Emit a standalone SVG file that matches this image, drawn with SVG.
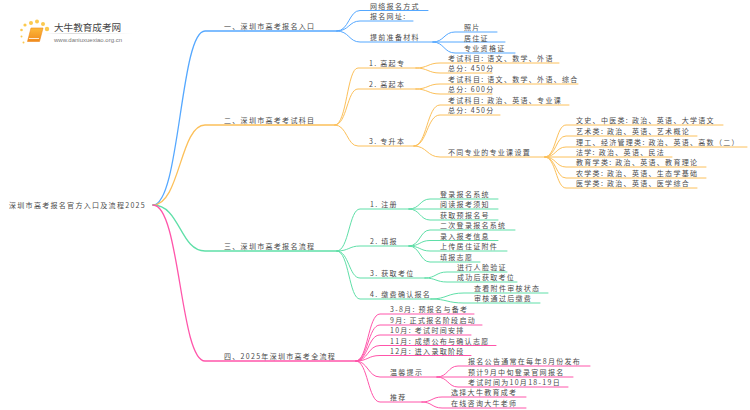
<svg xmlns="http://www.w3.org/2000/svg" width="750" height="410" viewBox="0 0 750 410">
<style>
text{font-family:"Noto Sans CJK SC","Noto Sans",sans-serif;font-size:7px;letter-spacing:1.300px;fill:#4a4a4a}
.c{fill:none;stroke-width:1;stroke-linecap:round}
.m{stroke-width:1.300}
.b{stroke:#55a8ff}.o{stroke:#fcc05a}.g{stroke:#5fdfa8}.p{stroke:#ff55aa}
</style>
<defs><linearGradient id="fade"><stop offset="0" stop-color="#ccc" stop-opacity="0"/><stop offset=".3" stop-color="#ccc"/><stop offset="1" stop-color="#ccc" stop-opacity="0"/></linearGradient>
<linearGradient id="bk" x1="0" y1="0" x2="0" y2="1"><stop offset="0" stop-color="#fdb93a"/><stop offset="1" stop-color="#f08a1c"/></linearGradient></defs>
<rect width="750" height="410" fill="#fff"/>
<g id="logo">
<g fill="#fbc94f"><circle cx="25" cy="25" r="1.600"/><circle cx="31" cy="23" r="2"/><circle cx="37" cy="21.500" r="2"/><circle cx="43" cy="24" r="2"/><circle cx="47" cy="29" r="2.200"/><circle cx="21.500" cy="30" r="1.300"/><circle cx="21.500" cy="36.500" r="1"/><circle cx="23.500" cy="42.500" r="1"/></g>
<path d="M31 28H43L39.500 41.500H27.500Z" fill="url(#bk)" stroke="#ee8a1d" stroke-width=".6"/>
<path d="M29 38.500H39" stroke="#fff" stroke-width=".8"/>
<rect x="45" y="33" width="88" height=".7" fill="url(#fade)"/>
<text x="54" y="31" style="font-size:9.600px;letter-spacing:0;fill:#444">大牛教育成考网</text>
<text x="54" y="41.500" style="font-size:6px;letter-spacing:0;fill:#777;font-family:'Liberation Sans',sans-serif">www.daniuxuexiao.org.cn</text>
</g>
<g id="connectors">
<path class="c m b" d="M153 205C180 205 180 31 205 31H337"/>
<path class="c b" d="M337 31C349 31 349 10.500 360 10.500H428"/>
<path class="c b" d="M337 31C349 31 349 21 360 21H413"/>
<path class="c b" d="M337 31C349 31 349 42 360 42H433"/>
<path class="c b" d="M433 42C444 42 444 32 455 32H497"/>
<path class="c b" d="M433 42H505"/>
<path class="c b" d="M433 42C444 42 444 53 455 53H515"/>
<path class="c m o" d="M153 205C180 205 180 125 205 125H335"/>
<path class="c o" d="M335 125C347 125 347 68 358 68H416"/>
<path class="c o" d="M335 125C347 125 347 89 358 89H416"/>
<path class="c o" d="M335 125C347 125 347 146 358 146H414"/>
<path class="c o" d="M416 68C428 68 428 63 440 63H559"/>
<path class="c o" d="M416 68C428 68 428 73 440 73H492"/>
<path class="c o" d="M416 89C428 89 428 84 440 84H578"/>
<path class="c o" d="M416 89C428 89 428 94 440 94H492"/>
<path class="c o" d="M414 146C427 146 427 105 440 105H569"/>
<path class="c o" d="M414 146C427 146 427 115 440 115H500"/>
<path class="c o" d="M414 146C427 146 427 157 440 157H545"/>
<path class="c o" d="M545 157C556 157 556 125 566 125H723"/>
<path class="c o" d="M545 157C556 157 556 136 566 136H697"/>
<path class="c o" d="M545 157C556 157 556 147 566 147H747"/>
<path class="c o" d="M545 157H672"/>
<path class="c o" d="M545 157C556 157 556 167 566 167H706"/>
<path class="c o" d="M545 157C556 157 556 178 566 178H706"/>
<path class="c o" d="M545 157C556 157 556 188 566 188H697"/>
<path class="c m g" d="M153 205C180 205 180 251 205 251H337"/>
<path class="c g" d="M337 251C349 251 349 209 360 209H409"/>
<path class="c g" d="M337 251C349 251 349 246 360 246H409"/>
<path class="c g" d="M337 251C349 251 349 278 360 278H425"/>
<path class="c g" d="M337 251C349 251 349 299 360 299H431"/>
<path class="c g" d="M409 209C420 209 420 199 430 199H498"/>
<path class="c g" d="M409 209H498"/>
<path class="c g" d="M409 209C420 209 420 220 430 220H498"/>
<path class="c g" d="M409 246C420 246 420 230 430 230H515"/>
<path class="c g" d="M409 246C420 246 420 240.500 430 240.500H498"/>
<path class="c g" d="M409 246C420 246 420 251 430 251H507"/>
<path class="c g" d="M409 246C420 246 420 262 430 262H480"/>
<path class="c g" d="M425 278C436 278 436 272 447 272H507"/>
<path class="c g" d="M425 278C436 278 436 282 447 282H517"/>
<path class="c g" d="M431 299C447 299 447 293 464 293H548"/>
<path class="c g" d="M431 299C447 299 447 303 464 303H540"/>
<path class="c m p" d="M153 205C180 205 180 361 205 361H356"/>
<path class="c p" d="M356 361C368 361 368 314 380 314H474"/>
<path class="c p" d="M356 361C368 361 368 325 380 325H482"/>
<path class="c p" d="M356 361C368 361 368 335 380 335H471"/>
<path class="c p" d="M356 361C368 361 368 345.500 380 345.500H496"/>
<path class="c p" d="M356 361C368 361 368 355.500 380 355.500H471"/>
<path class="c p" d="M356 361C368 361 368 377 380 377H437"/>
<path class="c p" d="M356 361C368 361 368 402 380 402H422"/>
<path class="c p" d="M437 377C448 377 448 366 458 366H590"/>
<path class="c p" d="M437 377H573"/>
<path class="c p" d="M437 377C448 377 448 387 458 387H568"/>
<path class="c p" d="M422 402C432 402 432 397 442 397H526"/>
<path class="c p" d="M422 402C432 402 432 408 442 408H526"/>
</g>
<g id="root"><text x="9" y="208">深圳市高考报名官方入口及流程2025</text></g>
<g id="a1"><text x="224" y="29">一、深圳市高考报名入口</text></g>
<g id="a1-1"><text x="370" y="8.500">网络报名方式</text></g>
<g id="a1-2"><text x="370" y="19">报名网址:</text></g>
<g id="a1-3"><text x="370" y="40">提前准备材料</text></g>
<g id="a1-3-1"><text x="464" y="30">照片</text></g>
<g id="a1-3-2"><text x="464" y="40.500">居住证</text></g>
<g id="a1-3-3"><text x="464" y="51">专业资格证</text></g>
<g id="a2"><text x="224" y="123">二、深圳市高考考试科目</text></g>
<g id="a2-1"><text x="369" y="66">1. 高起专</text></g>
<g id="a2-1-1"><text x="448" y="61">考试科目: 语文、数学、外语</text></g>
<g id="a2-1-2"><text x="448" y="71">总分: 450分</text></g>
<g id="a2-2"><text x="369" y="87">2. 高起本</text></g>
<g id="a2-2-1"><text x="448" y="82">考试科目: 语文、数学、外语、综合</text></g>
<g id="a2-2-2"><text x="448" y="92">总分: 600分</text></g>
<g id="a2-3"><text x="369" y="144">3. 专升本</text></g>
<g id="a2-3-1"><text x="448" y="103">考试科目: 政治、英语、专业课</text></g>
<g id="a2-3-2"><text x="448" y="113">总分: 450分</text></g>
<g id="a2-3-3"><text x="448" y="155">不同专业的专业课设置</text></g>
<g id="m1"><text x="576" y="123">文史、中医类: 政治、英语、大学语文</text></g>
<g id="m2"><text x="576" y="134">艺术类: 政治、英语、艺术概论</text></g>
<g id="m3"><text x="576" y="145">理工、经济管理类: 政治、英语、高数（二）</text></g>
<g id="m4"><text x="576" y="155">法学: 政治、英语、民法</text></g>
<g id="m5"><text x="576" y="165">教育学类: 政治、英语、教育理论</text></g>
<g id="m6"><text x="576" y="176">农学类: 政治、英语、生态学基础</text></g>
<g id="m7"><text x="576" y="186">医学类: 政治、英语、医学综合</text></g>
<g id="a3"><text x="224" y="249">三、深圳市高考报名流程</text></g>
<g id="a3-1"><text x="370" y="207">1. 注册</text></g>
<g id="a3-1-1"><text x="440" y="197">登录报名系统</text></g>
<g id="a3-1-2"><text x="440" y="207">阅读报考须知</text></g>
<g id="a3-1-3"><text x="440" y="218">获取预报名号</text></g>
<g id="a3-2"><text x="370" y="244">2. 填报</text></g>
<g id="a3-2-1"><text x="440" y="228">二次登录报名系统</text></g>
<g id="a3-2-2"><text x="440" y="238.500">录入报考信息</text></g>
<g id="a3-2-3"><text x="440" y="249">上传居住证附件</text></g>
<g id="a3-2-4"><text x="440" y="260">填报志愿</text></g>
<g id="a3-3"><text x="370" y="276">3. 获取考位</text></g>
<g id="a3-3-1"><text x="457" y="270">进行人脸验证</text></g>
<g id="a3-3-2"><text x="457" y="280">成功后获取考位</text></g>
<g id="a3-4"><text x="370" y="297">4. 缴费确认报名</text></g>
<g id="a3-4-1"><text x="474" y="291">查看附件审核状态</text></g>
<g id="a3-4-2"><text x="474" y="301">审核通过后缴费</text></g>
<g id="a4"><text x="224" y="359">四、2025年深圳市高考全流程</text></g>
<g id="a4-1"><text x="390" y="312">3-8月: 预报名与备考</text></g>
<g id="a4-2"><text x="390" y="323">9月: 正式报名阶段启动</text></g>
<g id="a4-3"><text x="390" y="333">10月: 考试时间安排</text></g>
<g id="a4-4"><text x="390" y="343.500">11月: 成绩公布与确认志愿</text></g>
<g id="a4-5"><text x="390" y="353.500">12月: 进入录取阶段</text></g>
<g id="a4-6"><text x="390" y="375">温馨提示</text></g>
<g id="a4-6-1"><text x="468" y="364">报名公告通常在每年8月份发布</text></g>
<g id="a4-6-2"><text x="468" y="375">预计9月中旬登录官网报名</text></g>
<g id="a4-6-3"><text x="468" y="385">考试时间为10月18-19日</text></g>
<g id="a4-7"><text x="390" y="400">推荐</text></g>
<g id="a4-7-1"><text x="451" y="395">选择大牛教育成考</text></g>
<g id="a4-7-2"><text x="451" y="406">在线咨询大牛老师</text></g>
</svg>
